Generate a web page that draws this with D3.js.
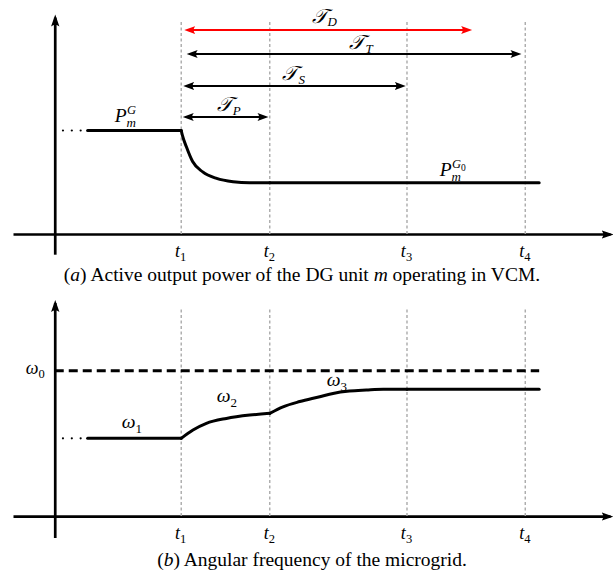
<!DOCTYPE html>
<html>
<head>
<meta charset="UTF-8">
<script src="https://d3js.org/d3.v7.min.js"></script>
<style>
  body { margin: 0; background: #fff; }
  svg { display: block; }
  .math { font-family: "Liberation Serif", "DejaVu Serif", serif; font-style: italic; }
  .upright { font-style: normal; }
  .caption { font-family: "Liberation Serif", serif; font-size: 19.5px; }
  .guide { stroke: #aaa; stroke-width: 1.4; stroke-dasharray: 3,2.5; }
  .curve { fill: none; stroke: #000; stroke-width: 3; stroke-linecap: round; stroke-linejoin: round; }
</style>
</head>
<body>
<svg width="613" height="572"></svg>
<script>
// time marks t1..t4
const tickNames = ["1", "2", "3", "4"];
const tickTimes = [1.0, 1.70, 2.785, 3.72];

// (a) active power of DG unit m
const powerT = [0.26, 1.0, 1.01, 1.04, 1.09, 1.17, 1.28, 1.41, 1.54, 1.70, 3.83];
const powerV = [1.0, 1.0, 0.95, 0.845, 0.70, 0.60, 0.537, 0.505, 0.495, 0.495, 0.495];

// intervals T_D, T_T, T_S, T_P
const spanNames = ["D", "T", "S", "P"];
const spanStart = [1.024, 1.043, 1.016, 1.012];
const spanEnd = [3.30, 3.69, 2.775, 1.69];
const spanLevel = [1.97, 1.74, 1.43, 1.13];
const spanColor = ["#ff0000", "#000", "#000", "#000"];

// (b) angular frequency
const freqT = [0.26, 1.0, 1.093, 1.199, 1.357, 1.542, 1.70, 1.805, 1.937, 2.095, 2.20, 2.33, 2.464, 2.597, 2.785, 3.83];
const freqV = [0.535, 0.535, 0.592, 0.638, 0.672, 0.695, 0.707, 0.752, 0.788, 0.821, 0.844, 0.86, 0.867, 0.872, 0.872, 0.872];
const omega0 = 1.0;

// "..." before the curves start
const dotT = [0.065, 0.135, 0.205];

// curve labels: base, sub, sup, sub of sup, t, value
const powerLabels = [
  ["P", "m", "G", "", 0.474, 1.082],
  ["P", "m", "G", "0", 3.043, 0.56]
];
const freqLabels = [
  ["ω", "1", "", "", 0.53, 0.606],
  ["ω", "2", "", "", 1.28, 0.785],
  ["ω", "3", "", "", 2.15, 0.895]
];
const spanLabelT = [2.03, 2.33, 1.80, 1.28];
const spanLabelV = [2.04, 1.787, 1.488, 1.188];

const svg = d3.select("svg");

const x = d3.scaleLinear().domain([-0.33, 4.39]).range([13, 610]);
const yA = d3.scaleLinear().domain([-0.2, 2.12]).range([254.7, 14.6]);
const yB = d3.scaleLinear().domain([-0.151, 1.487]).range([538, 300]);

// arrow heads
const defs = svg.append("defs");
function head(id, color, len, half) {
  defs.append("marker")
    .attr("id", id)
    .attr("markerUnits", "userSpaceOnUse")
    .attr("viewBox", `${-len} ${-half - 1} ${len + 4} ${2 * half + 2}`)
    .attr("markerWidth", len + 4)
    .attr("markerHeight", 2 * half + 2)
    .attr("refX", -3)
    .attr("refY", 0)
    .attr("orient", "auto-start-reverse")
    .append("path")
    .attr("d", `M0,0L${-len},${-half}Q${-len * 0.7},0 ${-len},${half}Z`)
    .attr("fill", color);
}
head("ax", "#000", 12, 4.2);
head("arB", "#000", 11, 4);
head("arR", "#ff0000", 11, 4);

function drawAxes(g, yS, yTop, yLow, omegaTick) {
  const gx = g.append("g")
    .attr("transform", `translate(0,${yS(0)})`)
    .call(d3.axisBottom(x).tickValues(tickTimes).tickSize(0).tickFormat(""));
  gx.select(".domain").attr("stroke-width", 2.7).attr("marker-end", "url(#ax)");
  gx.selectAll(".tick text").each(function(d, i) {
    const t = d3.select(this)
      .attr("class", "math")
      .attr("font-size", 18)
      .attr("font-family", null)
      .attr("y", 23).attr("dy", null)
      .attr("x", -1);
    t.append("tspan").text("t");
    t.append("tspan").attr("class", "upright").attr("font-size", 12.5).attr("dy", 3.5).text(tickNames[i]);
  });

  const ay = d3.axisLeft(yS).tickSize(0).tickPadding(10).tickSizeOuter(0);
  const gy = g.append("g")
    .attr("transform", `translate(${x(0)},0)`)
    .call(ay.tickValues(omegaTick ? [omega0] : []).tickFormat(""));
  gy.select(".domain").attr("stroke-width", 2.7).attr("marker-end", "url(#ax)")
    .attr("d", `M0.5,${yS(yLow)}V${yS(yTop) + 3}`);
  gy.selectAll(".tick text").each(function() {
    const t = d3.select(this)
      .attr("class", "math")
      .attr("font-size", 18)
      .attr("font-family", null)
      .attr("dy", "0.15em");
    t.append("tspan").text("ω");
    t.append("tspan").attr("class", "upright").attr("font-size", 12.5).attr("dy", 4).text("0");
  });

  g.selectAll(".guide")
    .data(tickTimes)
    .join("line")
    .attr("class", "guide")
    .attr("x1", d => x(d)).attr("x2", d => x(d))
    .attr("y1", yS(0)).attr("y2", yS(yTop - 0.05));
}

function mathLabel(g, yS, lab, calig) {
  const [base, sub, sup, supSub, t, v] = lab;
  const bx = x(t), by = yS(v);
  const b = g.append("text").attr("class", "math")
    .attr("x", bx).attr("y", by).attr("font-size", calig ? 20 : 19.5).text(base);
  const w = b.node().getComputedTextLength();
  if (sup) {
    const s = g.append("text").attr("class", "math")
      .attr("x", bx + w + 0.5).attr("y", by - 8.5).attr("font-size", 12.5).text(sup);
    if (supSub) {
      const sw = s.node().getComputedTextLength();
      g.append("text").attr("class", "math upright")
        .attr("x", bx + w + 0.5 + sw).attr("y", by - 5.5).attr("font-size", 9.5).text(supSub);
    }
  }
  if (sub) {
    const digit = /[0-9]/.test(sub);
    g.append("text").attr("class", digit ? "math upright" : "math")
      .attr("x", bx + w + (calig ? 1 : 0)).attr("y", by + (calig ? 3.5 : 5)).attr("font-size", 13).text(sub);
  }
}

function dots(g, yS, v) {
  g.selectAll(null)
    .data(dotT)
    .join("circle")
    .attr("cx", d => x(d)).attr("cy", yS(v))
    .attr("r", 1.1)
    .attr("fill", "#000");
}

function pieces(ts, vs) {
  const pts = ts.map((t, i) => [t, vs[i]]);
  const out = [];
  let cur = [];
  pts.forEach(p => {
    cur.push(p);
    if (tickTimes.some(tt => Math.abs(tt - p[0]) < 1e-6)) {
      out.push(cur);
      cur = [p];
    }
  });
  if (cur.length > 1) out.push(cur);
  return out;
}

// ---- panel (a)
const gA = svg.append("g");
drawAxes(gA, yA, 2.12, -0.2, false);

const lineA = d3.line().x(d => x(d[0])).y(d => yA(d[1])).curve(d3.curveMonotoneX);
gA.selectAll(".pw")
  .data(pieces(powerT, powerV))
  .join("path")
  .attr("class", "curve")
  .attr("d", lineA);
dots(gA, yA, powerV[0]);
powerLabels.forEach(l => mathLabel(gA, yA, l, false));

spanNames.forEach((n, i) => {
  const yy = yA(spanLevel[i]);
  gA.append("line")
    .attr("x1", x(spanStart[i]) + 3).attr("x2", x(spanEnd[i]) - 3)
    .attr("y1", yy).attr("y2", yy)
    .attr("stroke", spanColor[i]).attr("stroke-width", 2)
    .attr("marker-start", `url(#${i === 0 ? "arR" : "arB"})`)
    .attr("marker-end", `url(#${i === 0 ? "arR" : "arB"})`);
  mathLabel(gA, yA, ["𝒯", n, "", "", spanLabelT[i], spanLabelV[i]], true);
});

const capA = svg.append("text").attr("class", "caption")
  .attr("x", 302).attr("y", 281).attr("text-anchor", "middle");
capA.append("tspan").text("(");
capA.append("tspan").attr("font-style", "italic").text("a");
capA.append("tspan").text(") Active output power of the DG unit ");
capA.append("tspan").attr("font-style", "italic").text("m");
capA.append("tspan").text(" operating in VCM.");

// ---- panel (b)
const gB = svg.append("g");
drawAxes(gB, yB, 1.487, -0.151, true);

gB.append("line")
  .attr("x1", x(0)).attr("x2", x(freqT[freqT.length - 1]))
  .attr("y1", yB(omega0)).attr("y2", yB(omega0))
  .attr("stroke", "#000").attr("stroke-width", 3).attr("stroke-dasharray", "9,5");

const lineB = d3.line().x(d => x(d[0])).y(d => yB(d[1])).curve(d3.curveMonotoneX);
gB.selectAll(".fq")
  .data(pieces(freqT, freqV))
  .join("path")
  .attr("class", "curve")
  .attr("d", lineB);
dots(gB, yB, freqV[0]);
freqLabels.forEach(l => mathLabel(gB, yB, l, false));

const capB = svg.append("text").attr("class", "caption")
  .attr("x", 312).attr("y", 566).attr("text-anchor", "middle");
capB.append("tspan").text("(");
capB.append("tspan").attr("font-style", "italic").text("b");
capB.append("tspan").text(") Angular frequency of the microgrid.");
</script>
</body>
</html>
